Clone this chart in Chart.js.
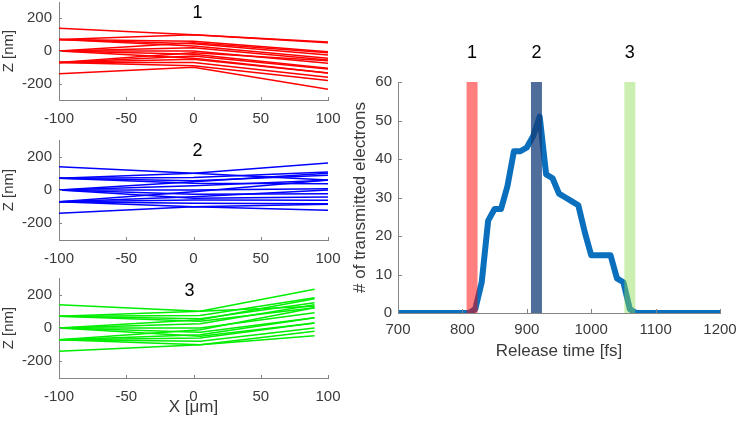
<!DOCTYPE html>
<html>
<head>
<meta charset="utf-8">
<title>Trajectories and transmitted electrons</title>
<script src="https://cdn.jsdelivr.net/npm/chart.js@4.4.0/dist/chart.umd.min.js"></script>
<style>
  html, body { margin: 0; padding: 0; background: #fff; }
  body { width: 737px; height: 425px; position: relative; overflow: hidden; }
  canvas { position: absolute; }
</style>
</head>
<body>
<canvas id="traj1" width="345" height="135" style="left:0;top:0"></canvas>
<canvas id="traj2" width="345" height="135" style="left:0;top:135px"></canvas>
<canvas id="traj3" width="345" height="155" style="left:0;top:270px"></canvas>
<canvas id="release" width="397" height="380" style="left:340px;top:0"></canvas>
<script>
// Left panels: x positions where each trajectory is sampled
const xKnots12 = [-100, 0, 100];
const xKnots3 = [-100, 5, 90];

// Z of every trajectory at the start, at the kink and at the end (nm)
const zStart = [140, 70, 70, 70, 70, 0, 0, 0, 0, 0, -70, -70, -70, -70, -70, -140];
const zMid1 = [100, 100, 60, 45, 30, 50, 20, 0, -20, -45, -10, -30, -50, -70, -90, -100];
const zEnd1 = [55, 50, -5, -25, -45, -10, -55, -75, -105, -135, -60, -110, -135, -160, -180, -235];
const zMid2 = [100, 100, 75, 55, 40, 50, 25, 0, -25, -50, -10, -40, -60, -80, -100, -100];
const zEnd2 = [60, 162, 108, 88, 38, 100, 58, 8, -22, -42, 60, 0, -62, -82, -85, -122];
const zMid3 = [100, 100, 75, 55, 40, 50, 25, 0, -25, -50, -10, -40, -60, -80, -100, -100];
const zEnd3 = [130, 233, 182, 151, 121, 175, 140, 91, 61, 30, 121, 61, 30, 0, -20, -46];

const xTicks = [-100, -50, 0, 50, 100];
const zTicks = [-200, 0, 200];

// Right panel: transmitted electrons vs release time
const releaseTime = [700, 810, 820, 830, 840, 850, 860, 870, 880, 890, 900, 910, 920, 930, 940, 950,
    960, 970, 980, 990, 1000, 1010, 1020, 1030, 1040, 1050, 1060, 1070, 1200];
const transmitted = [0, 0, 1, 8, 24, 27, 27, 33, 42, 42, 43, 46, 51, 36, 35, 31,
    30, 29, 28, 21, 15, 15, 15, 15, 9, 8, 1, 0, 0];
const bandTimes = [815, 915, 1060];
const bandLabels = ['1', '2', '3'];
const bandColors = ['rgba(255, 0, 0, 0.5)', 'rgba(20, 60, 120, 0.75)', 'rgba(140, 220, 80, 0.45)'];
const timeTicks = [700, 800, 900, 1000, 1100, 1200];
const countTicks = [0, 10, 20, 30, 40, 50, 60];

const FONT = 'Liberation Sans, Arial, Helvetica, sans-serif';
const axisColor = '#858585';
const labelColor = '#3a3a3a';

// Ticks drawn inward, as in the original figure
const inwardTicks = {
    id: 'inwardTicks',
    afterDraw(chart, args, opts) {
        const ctx = chart.ctx;
        const area = chart.chartArea;
        const len = opts.length || 4;
        ctx.save();
        ctx.strokeStyle = axisColor;
        ctx.lineWidth = 1;
        ctx.beginPath();
        chart.scales.x.ticks.forEach(t => {
            const px = Math.round(chart.scales.x.getPixelForValue(t.value)) + 0.5;
            ctx.moveTo(px, area.bottom);
            ctx.lineTo(px, area.bottom - len);
        });
        chart.scales.y.ticks.forEach(t => {
            const py = Math.round(chart.scales.y.getPixelForValue(t.value)) + 0.5;
            ctx.moveTo(area.left, py);
            ctx.lineTo(area.left + len, py);
        });
        ctx.stroke();
        ctx.restore();
    }
};

// Panel numbers ("1", "2", "3")
const panelLabels = {
    id: 'panelLabels',
    afterDraw(chart, args, opts) {
        const ctx = chart.ctx;
        ctx.save();
        ctx.fillStyle = '#000';
        ctx.font = opts.size + 'px ' + FONT;
        ctx.textAlign = 'center';
        ctx.textBaseline = 'middle';
        opts.items.forEach(item => {
            const px = chart.scales.x.getPixelForValue(item.x);
            const py = item.y !== undefined ? chart.scales.y.getPixelForValue(item.y) : chart.chartArea.top - opts.above;
            ctx.fillText(item.text, px, py);
        });
        ctx.restore();
    }
};

// Fixed axis sizes, no extra room for overflowing tick labels
function fixHeight(h) {
    return s => { s.height = h; s.paddingLeft = 0; s.paddingRight = 0; s.paddingTop = 0; s.paddingBottom = 0; };
}
function fixWidth(w) {
    return s => { s.width = w; s.paddingLeft = 0; s.paddingRight = 0; s.paddingTop = 0; s.paddingBottom = 0; };
}
const plainNumber = v => String(v);

// Builds one trajectory panel
function trajectoryChart(id, knots, mids, ends, color, label, xHeight, topPad, showTitle) {
    const datasets = zStart.map((z0, i) => ({
        data: [
            { x: knots[0], y: z0 },
            { x: knots[1], y: mids[i] },
            { x: knots[2], y: ends[i] }
        ],
        borderColor: color,
        borderWidth: 1.5,
        pointRadius: 0,
        tension: 0
    }));

    return new Chart(document.getElementById(id), {
        type: 'line',
        data: { datasets },
        plugins: [inwardTicks, panelLabels],
        options: {
            responsive: false,
            animation: false,
            layout: { padding: { top: topPad, right: 17, left: 0, bottom: 0 } },
            plugins: {
                legend: { display: false },
                tooltip: { enabled: false },
                inwardTicks: { length: 3 },
                panelLabels: { size: 18, items: [label] }
            },
            scales: {
                x: {
                    type: 'linear',
                    min: -100,
                    max: 100,
                    afterBuildTicks: s => { s.ticks = xTicks.map(v => ({ value: v })); },
                    afterFit: fixHeight(xHeight),
                    grid: { display: false, drawTicks: false },
                    border: { color: axisColor },
                    ticks: { color: labelColor, font: { family: FONT, size: 15 }, padding: 10, maxRotation: 0, callback: plainNumber },
                    title: { display: showTitle, text: 'X [\u03bcm]', color: labelColor, font: { family: FONT, size: 17 }, padding: { top: 0, bottom: 7 } }
                },
                y: {
                    type: 'linear',
                    min: -300,
                    max: 300,
                    afterBuildTicks: s => { s.ticks = zTicks.map(v => ({ value: v })); },
                    afterFit: fixWidth(59),
                    grid: { display: false, drawTicks: false },
                    border: { color: axisColor },
                    ticks: { color: labelColor, font: { family: FONT, size: 15 }, padding: 7, callback: plainNumber },
                    title: { display: true, text: 'Z [nm]', color: labelColor, font: { family: FONT, size: 15 }, padding: 0 }
                }
            }
        }
    });
}

trajectoryChart('traj1', xKnots12, zMid1, zEnd1, '#ff0000', { text: '1', x: 3, y: 235 }, 35, 2, false);
trajectoryChart('traj2', xKnots12, zMid2, zEnd2, '#0000ff', { text: '2', x: 3, y: 236 }, 30, 5, false);
trajectoryChart('traj3', xKnots3, zMid3, zEnd3, '#00ee00', { text: '3', x: -3, y: 222 }, 47, 8, true);

// Right panel: bands first so they are painted over the curve
const bandSets = bandTimes.map((t, i) => ({
    data: [{ x: t, y: 0 }, { x: t, y: 60 }],
    borderColor: bandColors[i],
    borderWidth: 11,
    borderCapStyle: 'butt',
    pointRadius: 0
}));

new Chart(document.getElementById('release'), {
    type: 'line',
    data: {
        datasets: [
            ...bandSets,
            {
                data: releaseTime.map((t, i) => ({ x: t, y: transmitted[i] })),
                borderColor: '#0a6fbd',
                borderWidth: 6,
                borderJoinStyle: 'round',
                pointRadius: 0,
                tension: 0
            }
        ]
    },
    plugins: [inwardTicks, panelLabels],
    options: {
        responsive: false,
        animation: false,
        layout: { padding: { top: 82, right: 17, left: 0, bottom: 0 } },
        plugins: {
            legend: { display: false },
            tooltip: { enabled: false },
            inwardTicks: { length: 4 },
            panelLabels: {
                size: 18,
                above: 29,
                items: bandTimes.map((t, i) => ({ text: bandLabels[i], x: t }))
            }
        },
        scales: {
            x: {
                type: 'linear',
                min: 700,
                max: 1200,
                afterBuildTicks: s => { s.ticks = timeTicks.map(v => ({ value: v })); },
                afterFit: fixHeight(67),
                grid: { display: false, drawTicks: false },
                border: { color: axisColor },
                ticks: { color: labelColor, font: { family: FONT, size: 15 }, padding: 8, maxRotation: 0, callback: plainNumber },
                title: { display: true, text: 'Release time [fs]', color: labelColor, font: { family: FONT, size: 17 }, padding: { top: 0, bottom: 18 } }
            },
            y: {
                type: 'linear',
                min: 0,
                max: 60,
                afterBuildTicks: s => { s.ticks = countTicks.map(v => ({ value: v })); },
                afterFit: fixWidth(58),
                grid: { display: false, drawTicks: false },
                border: { color: axisColor },
                ticks: { color: labelColor, font: { family: FONT, size: 15 }, padding: 6, callback: plainNumber },
                title: { display: true, text: '# of transmitted electrons', color: labelColor, font: { family: FONT, size: 17 }, padding: { top: 10, bottom: 0 } }
            }
        }
    }
});
</script>
</body>
</html>
